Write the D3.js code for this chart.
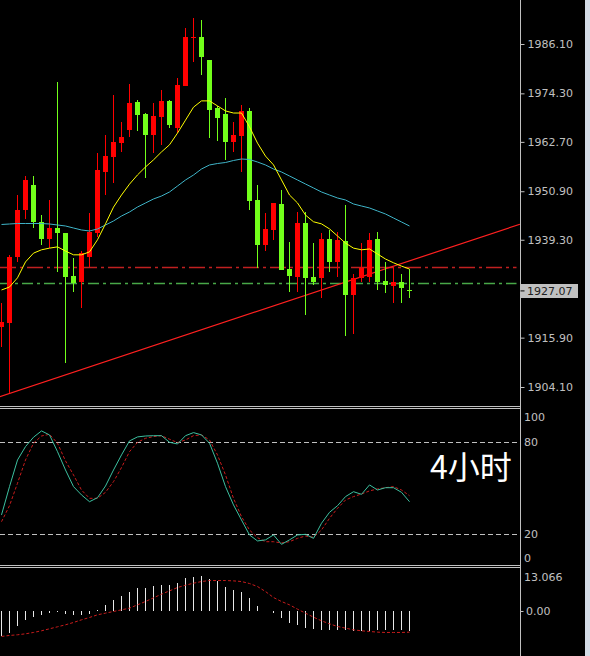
<!DOCTYPE html>
<html><head><meta charset="utf-8">
<script src="https://cdn.jsdelivr.net/npm/d3@7/dist/d3.min.js"></script>
<style>html,body{margin:0;padding:0;background:#000;overflow:hidden}</style>
</head><body>
<svg id="c" width="590" height="656"></svg>
<script>
// ---- data (4H candles, index 0..51) ----
const opens  = [1918.5,1919.5,1935.2,1946.4,1952.4,1943.6,1939.5,1942.0,1940.8,1930.6,1929.3,1935.2,1940.8,1955.6,1959.2,1962.5,1965.5,1972.2,1969.4,1964.3,1968.7,1972.5,1965.9,1976.1,1987.5,1987.8,1982.3,1970.7,1969.4,1962.7,1964.1,1970.2,1948.8,1938.0,1941.7,1947.9,1932.2,1930.5,1943.2,1930.3,1930.2,1939.5,1934.1,1939.0,1926.1,1930.1,1930.5,1939.4,1929.4,1928.3,1929.2,1927.3];
const highs  = [1924.1,1935.7,1950.0,1954.6,1954.6,1945.2,1948.8,1977.1,1940.9,1934.9,1936.5,1945.6,1960.0,1964.3,1973.9,1967.4,1976.5,1972.7,1969.6,1971.9,1975.0,1972.7,1977.9,1989.9,1992.3,1991.8,1982.3,1971.3,1973.1,1967.5,1971.5,1970.7,1952.4,1945.6,1948.1,1951.2,1938.8,1946.0,1945.9,1938.5,1940.8,1941.6,1941.2,1947.6,1931.1,1938.6,1940.8,1941.2,1934.0,1932.7,1931.2,1932.2];
const lows   = [1913.7,1902.6,1934.0,1944.2,1942.0,1938.0,1937.3,1931.7,1909.8,1926.9,1922.9,1932.9,1940.0,1950.0,1952.8,1960.3,1963.9,1965.3,1954.0,1960.0,1962.0,1965.9,1964.9,1976.0,1981.9,1978.7,1963.7,1962.9,1958.4,1960.3,1955.6,1946.4,1932.5,1936.6,1939.2,1932.0,1926.9,1926.9,1921.3,1928.5,1925.3,1931.7,1930.5,1916.3,1916.8,1929.3,1929.3,1927.3,1926.5,1924.1,1924.3,1925.3];
const closes = [1919.7,1935.2,1946.4,1953.6,1943.6,1939.6,1942.2,1940.8,1930.5,1928.9,1936.1,1941.2,1956.0,1959.3,1962.7,1963.9,1972.0,1969.1,1964.3,1968.9,1972.5,1966.7,1976.3,1987.8,1987.8,1982.9,1970.3,1968.4,1962.7,1964.3,1970.2,1948.6,1938.0,1941.9,1948.0,1932.1,1930.6,1943.2,1930.1,1929.3,1939.5,1934.1,1939.2,1926.2,1930.1,1932.5,1939.2,1929.3,1928.6,1929.3,1927.7,1927.07];
const maFast = [1927.3,1928.0,1930.2,1934.0,1936.1,1936.9,1937.3,1937.6,1936.6,1935.7,1935.7,1936.4,1939.3,1943.1,1947.1,1950.0,1952.6,1954.8,1956.7,1958.4,1960.3,1962.0,1964.8,1967.9,1971.0,1972.5,1972.5,1971.3,1970.1,1969.6,1969.6,1966.3,1962.4,1959.3,1957.2,1953.6,1950.0,1948.1,1945.2,1943.6,1943.1,1941.9,1940.2,1938.5,1937.3,1936.9,1937.1,1935.9,1934.7,1933.8,1933.0,1932.3];
const maSlow = [1942.95,1943.07,1943.19,1943.19,1943.19,1943.19,1943.07,1942.83,1942.59,1942.11,1941.64,1941.4,1941.88,1942.83,1943.79,1944.98,1945.94,1947.13,1948.09,1949.05,1949.76,1950.72,1952.15,1953.59,1954.78,1956.22,1957.18,1957.53,1957.77,1958.25,1958.61,1958.49,1957.89,1957.18,1956.22,1955.5,1954.55,1953.59,1952.63,1951.68,1950.72,1950.0,1949.29,1948.81,1947.85,1947.37,1946.9,1946.18,1945.46,1944.5,1943.55,1942.59];
const stochK = [32.4,50.8,68.1,76.8,82.9,87.0,84.4,73.5,61.6,50.8,45.4,41.0,43.6,51.2,61.6,71.4,80.5,83.1,83.7,83.9,83.9,79.6,78.5,83.9,85.9,84.4,79.0,66.0,50.8,38.9,29.1,19.4,15.5,16.2,19.4,13.3,16.2,19.4,19.8,17.2,27.0,34.1,38.4,44.3,47.5,45.8,51.9,48.6,50.1,50.1,47.1,41.0];
const stochD = [28.0,38.4,53.0,68.1,79.0,83.7,84.8,79.0,67.5,58.4,48.6,43.2,43.2,47.1,54.0,63.2,73.5,79.6,82.2,83.3,83.9,81.6,79.4,81.1,83.9,84.4,81.1,71.4,58.4,43.2,31.3,22.6,17.6,15.0,15.0,14.2,15.0,17.2,18.7,17.9,22.6,30.2,36.7,42.1,44.3,46.0,48.0,49.3,50.1,50.8,48.6,44.9];
const macdHist = [-7.5,-6.5,-4.5,-2.5,-1.7,-1.0,-0.5,-0.2,-0.8,-1.2,-1.2,-0.8,0.5,2.0,3.5,4.8,5.8,7.0,7.2,7.7,8.0,8.0,8.7,10.0,10.5,10.7,9.8,9.2,7.5,6.5,6.0,4.2,1.7,0,-0.5,-2.0,-3.5,-4.0,-5.0,-5.2,-5.5,-5.5,-5.5,-5.5,-5.8,-5.8,-5.8,-5.5,-5.5,-5.5,-5.5,-5.8];
const macdSignal = [-7.5,-7.2,-7.0,-6.7,-6.3,-5.8,-5.2,-4.6,-4.0,-3.3,-2.5,-1.8,-1.0,-0.5,0,0.5,1.0,2.0,3.0,4.1,5.2,6.2,7.2,7.9,8.5,9.0,9.3,9.3,9.3,9.2,9.0,8.4,7.5,6.0,4.2,3.0,2.0,0.7,-0.5,-1.7,-2.8,-3.7,-4.5,-5.0,-5.5,-5.8,-6.0,-6.2,-6.3,-6.3,-6.3,-6.2];
const priceTicks = [1986.10,1974.30,1962.70,1950.90,1939.30,1915.90,1904.10];
const lastPrice = 1927.07;
const levelRed = 1932.86, levelGreen = 1928.89;
const trendIdx = [-0.21, 64.8], trendPrice = [1901.8, 1943.0];
const stochLevels = [80, 20];
const stochTicks = [100, 80, 20, 0];
const macdTicks = [13.066, 0];
const periodLabel = "4小时";

// ---- layout ----
const svg = d3.select("#c");
const W = 590, H = 656, axisX = 520.5;
const n = closes.length;
const x = d3.scaleLinear().domain([0, n - 1]).range([1.5, 1.5 + 8 * (n - 1)]);
const y = d3.scaleLinear().domain([1904.10, 1986.10]).range([387, 44]);
const ys = d3.scaleLinear().domain([0, 100]).range([564.8, 410.9]);
const ym = d3.scaleLinear().domain([-13.37, 13.066]).range([656, 568]);
const grey = "#c0c0c0";
const font = "DejaVu Sans, sans-serif";

svg.append("rect").attr("width", W).attr("height", H).attr("fill", "#000");
svg.append("rect").attr("x", 585).attr("y", 0).attr("width", 5).attr("height", H).attr("fill", "#d4dce6");

const defs = svg.append("defs");
defs.append("clipPath").attr("id", "cpMain").append("rect").attr("x", 0).attr("y", 0).attr("width", axisX).attr("height", 406);

const main = svg.append("g").attr("clip-path", "url(#cpMain)");

// horizontal levels
const lv = main.append("g");
lv.append("line").attr("x1", 0).attr("x2", axisX - 4).attr("y1", Math.round(y(levelRed)) + 0.5).attr("y2", Math.round(y(levelRed)) + 0.5)
  .attr("stroke", "#c02020").attr("stroke-width", 1.5).attr("stroke-dasharray", "16,4,3,4");
lv.append("line").attr("x1", 0).attr("x2", axisX - 4).attr("y1", Math.round(y(levelGreen)) + 0.5).attr("y2", Math.round(y(levelGreen)) + 0.5)
  .attr("stroke", "#48a848").attr("stroke-width", 1.5).attr("stroke-dasharray", "11,4,3,4");

// trend line
main.append("line").attr("x1", x(trendIdx[0])).attr("x2", x(trendIdx[1]))
  .attr("y1", y(trendPrice[0])).attr("y2", y(trendPrice[1])).attr("stroke", "#ff2020").attr("stroke-width", 1.2);

// candles
const up = "#ff0000", dn = "#72ff1a";
const cg = main.append("g").attr("shape-rendering", "crispEdges");
d3.range(n).forEach(i => {
  const col = closes[i] >= opens[i] ? up : dn;
  const cx = x(i);
  cg.append("line").attr("x1", cx).attr("x2", cx).attr("y1", y(highs[i])).attr("y2", y(lows[i])).attr("stroke", col);
  const t = y(Math.max(opens[i], closes[i])), b = y(Math.min(opens[i], closes[i]));
  cg.append("rect").attr("x", cx - 2.5).attr("width", 5).attr("y", t).attr("height", Math.max(1, b - t)).attr("fill", col);
});

// moving averages
const lineGen = yy => d3.line().x((d, i) => x(i)).y(d => yy(d));
main.append("path").datum(maSlow).attr("d", lineGen(y)).attr("fill", "none").attr("stroke", "#3fb4c8").attr("stroke-width", 1);
main.append("path").datum(maFast).attr("d", lineGen(y)).attr("fill", "none").attr("stroke", "#ffff00").attr("stroke-width", 1);

// panel borders
const bl = svg.append("g").attr("stroke", grey).attr("shape-rendering", "crispEdges");
[406.5, 408.5, 565.5, 567.5].forEach(v => bl.append("line").attr("x1", 0).attr("x2", axisX).attr("y1", v).attr("y2", v));
bl.append("line").attr("x1", axisX).attr("x2", axisX).attr("y1", 0).attr("y2", H);

// price axis
const ax = d3.axisRight(y).tickValues(priceTicks).tickFormat(d3.format(".2f")).tickSize(4).tickPadding(3);
const axG = svg.append("g").attr("transform", `translate(${axisX},0)`).call(ax);
axG.select(".domain").remove();
axG.selectAll("line").attr("stroke", grey);
axG.selectAll("text").attr("fill", grey).style("font", `11px ${font}`);

// last price box
svg.append("rect").attr("x", 521).attr("y", Math.round(y(lastPrice)) - 7).attr("width", 57).attr("height", 14).attr("fill", "#c0c0c0");
svg.append("line").attr("x1", axisX).attr("x2", axisX + 4).attr("y1", y(lastPrice)).attr("y2", y(lastPrice)).attr("stroke", "#000");
svg.append("text").attr("x", 527).attr("y", y(lastPrice)).attr("dy", "0.35em").attr("fill", "#202020")
  .style("font", `11px ${font}`).text(d3.format(".2f")(lastPrice));

// stochastic panel
const sg = svg.append("g");
stochLevels.forEach(v => sg.append("line").attr("x1", 0).attr("x2", axisX).attr("y1", Math.round(ys(v)) + 0.5).attr("y2", Math.round(ys(v)) + 0.5)
  .attr("stroke", grey).attr("stroke-dasharray", "5,3"));
sg.append("path").datum(stochD).attr("d", lineGen(ys)).attr("fill", "none").attr("stroke", "#c81c1c").attr("stroke-dasharray", "3,2");
sg.append("path").datum(stochK).attr("d", lineGen(ys)).attr("fill", "none").attr("stroke", "#3cc0a0");
const stochOff = {100: 6, 80: 0, 20: 0, 0: -7};
stochTicks.forEach(v => sg.append("text").attr("x", 524).attr("y", ys(v) + stochOff[v]).attr("dy", "0.35em")
  .attr("fill", grey).style("font", `11px ${font}`).text(v));

// MACD panel
const mg = svg.append("g");
const mh = mg.append("g").attr("shape-rendering", "crispEdges");
macdHist.forEach((v, i) => { if (v !== 0) mh.append("line").attr("x1", x(i)).attr("x2", x(i)).attr("y1", ym(0)).attr("y2", ym(v)).attr("stroke", "#e8e8e8"); });
mg.append("path").datum(macdSignal).attr("d", lineGen(ym)).attr("fill", "none").attr("stroke", "#c81c1c").attr("stroke-dasharray", "3,2");
mg.append("text").attr("x", 524).attr("y", ym(macdTicks[0]) + 9).attr("dy", "0.35em").attr("fill", grey).style("font", `11px ${font}`).text(d3.format(".3f")(macdTicks[0]));
mg.append("line").attr("x1", axisX).attr("x2", axisX + 3).attr("y1", ym(0)).attr("y2", ym(0)).attr("stroke", grey);
mg.append("text").attr("x", 526).attr("y", ym(macdTicks[1])).attr("dy", "0.35em").attr("fill", grey).style("font", `11px ${font}`).text(d3.format(".2f")(macdTicks[1]));

// period label
svg.append("text").attr("x", 430).attr("y", 479).attr("fill", "#ffffff")
  .style("font", `32px "Noto Sans CJK SC", sans-serif`).text(periodLabel);
</script>
</body></html>
